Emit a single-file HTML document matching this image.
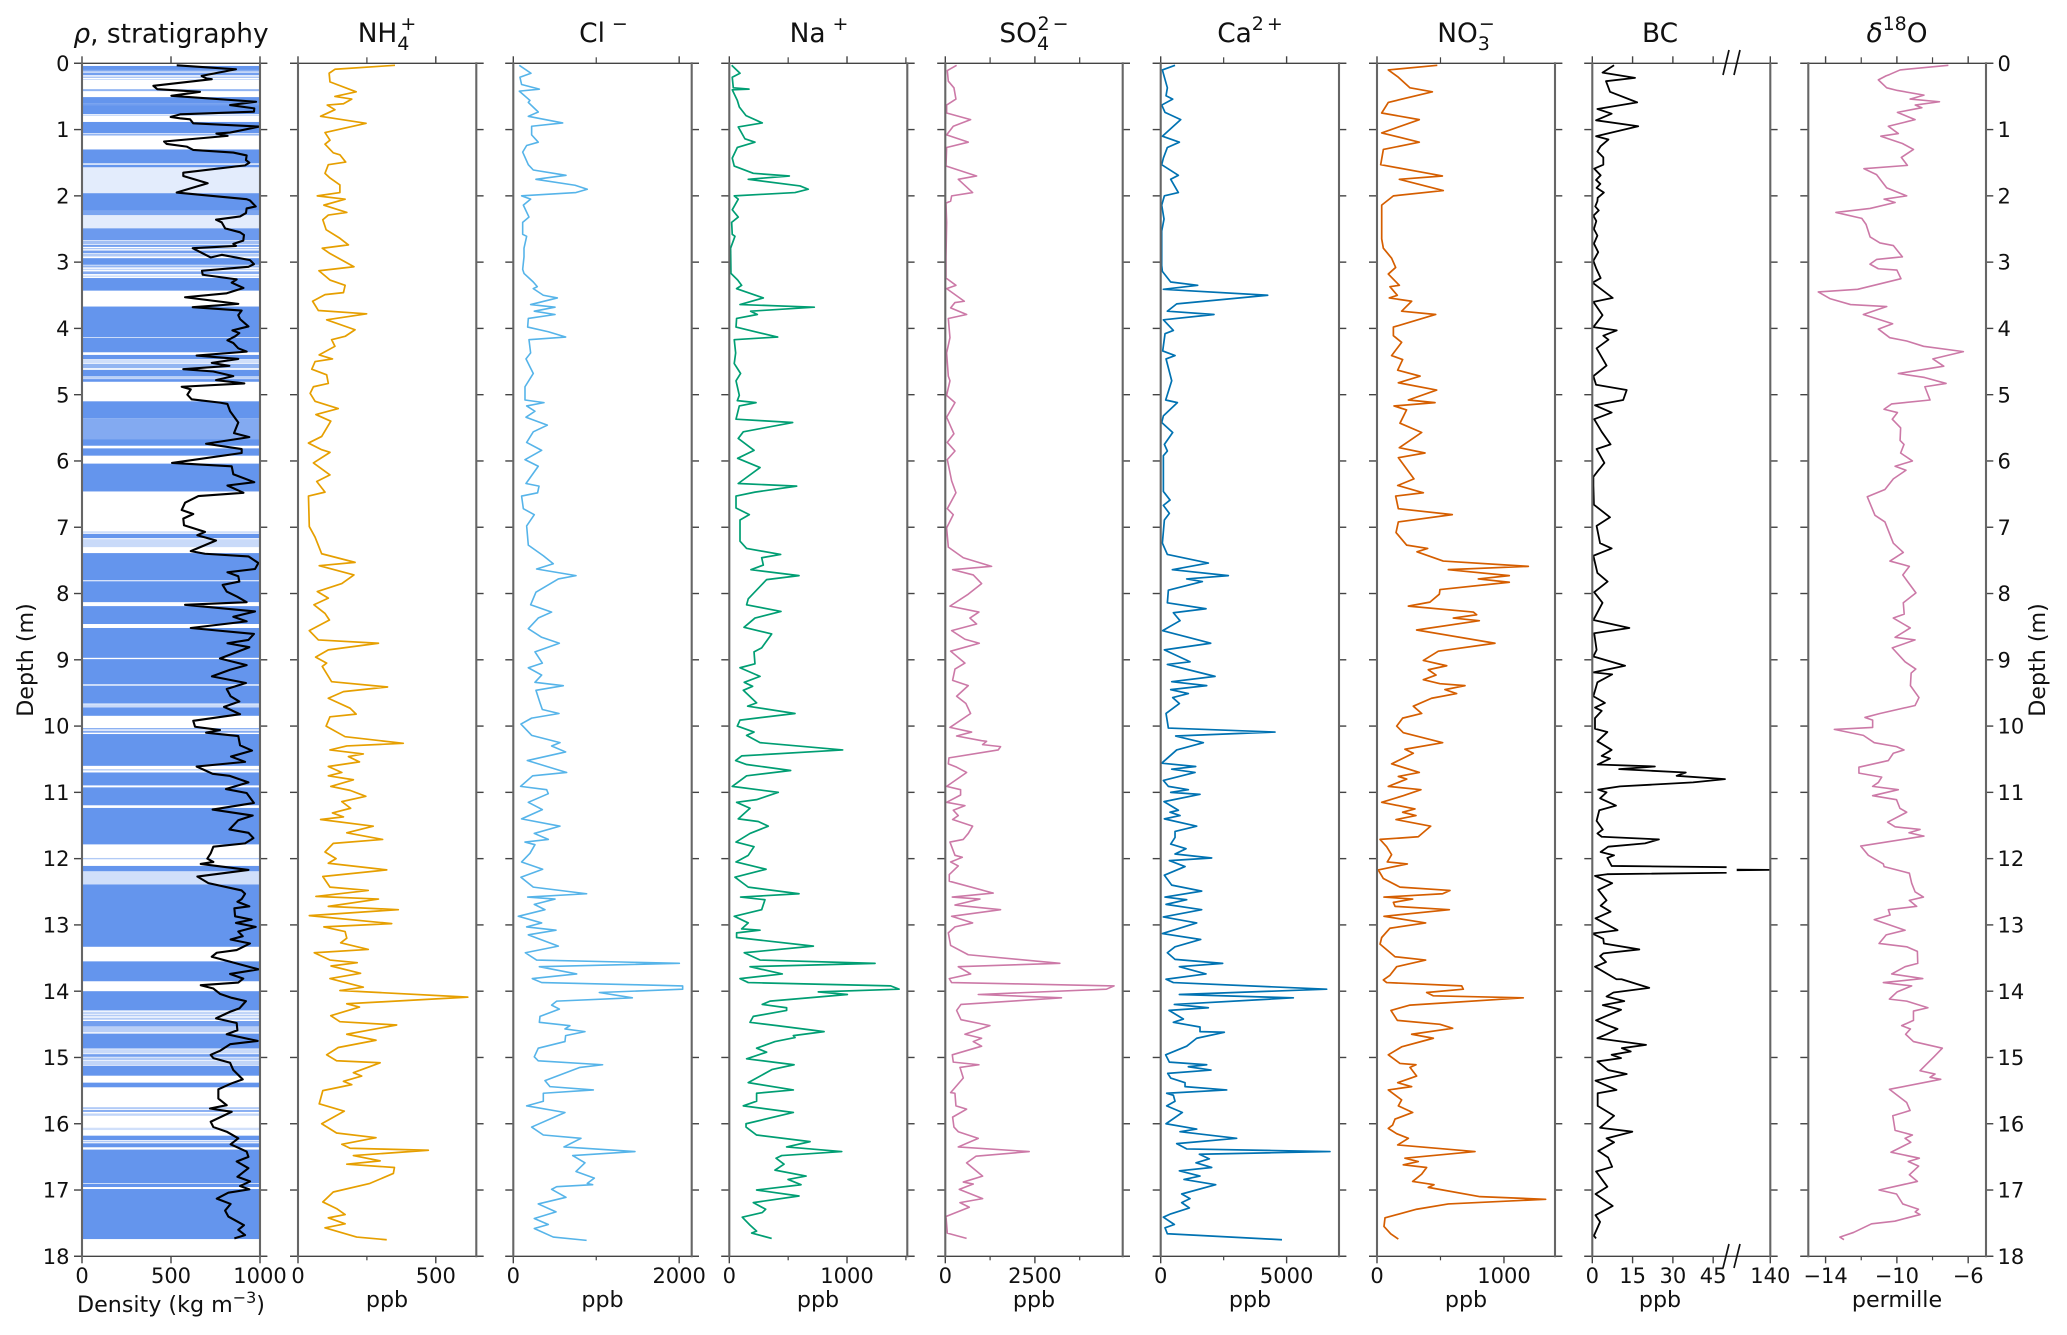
<!DOCTYPE html>
<html lang="en">
<head>
<meta charset="utf-8">
<title>Ice core profiles</title>
<style>
html,body{margin:0;padding:0;background:#fff;}
svg{display:block;filter:blur(0.35px);}
text{font-family:"DejaVu Sans","Liberation Sans",sans-serif;fill:#111;}
.tick{font-size:21px;}
.title{font-size:26.4px;}
.lab{font-size:22.2px;}
.s{font-size:19px;}
</style>
</head>
<body>
<svg id="chart" xmlns="http://www.w3.org/2000/svg" width="2067" height="1335" viewBox="0 0 2067 1335">
<rect width="2067" height="1335" fill="#fff"/>
<g id="plots"></g>
<text class="title" x="171" y="42.5" text-anchor="middle"><tspan font-style="italic">ρ</tspan>, stratigraphy</text>
<text class="title" x="387" y="42" text-anchor="middle">NH<tspan class="s" dy="8">4</tspan><tspan class="s" dx="-9" dy="-20">+</tspan></text>
<text class="title" x="603.5" y="42" text-anchor="middle">Cl<tspan class="s" dx="7" dy="-12">−</tspan></text>
<text class="title" x="819" y="42" text-anchor="middle">Na<tspan class="s" dx="7" dy="-12">+</tspan></text>
<text class="title" x="1034" y="42" text-anchor="middle">SO<tspan class="s" dy="8">4</tspan><tspan class="s" dx="-11.5" dy="-20">2</tspan><tspan class="s" dx="3">−</tspan></text>
<text class="title" x="1250" y="42" text-anchor="middle">Ca<tspan class="s" dy="-12">2</tspan><tspan class="s" dx="3">+</tspan></text>
<text class="title" x="1466" y="42" text-anchor="middle">NO<tspan class="s" dy="8">3</tspan><tspan class="s" dx="-11" dy="-20">−</tspan></text>
<text class="title" x="1660" y="42" text-anchor="middle">BC</text>
<text class="title" x="1897" y="42" text-anchor="middle"><tspan font-style="italic">δ</tspan><tspan class="s" dy="-12">18</tspan><tspan dy="12">O</tspan></text>
<text class="lab" x="171" y="1312" text-anchor="middle">Density (kg m<tspan font-size="16" dy="-9">−3</tspan><tspan dy="9">)</tspan></text>
<text class="lab" x="387" y="1307" text-anchor="middle">ppb</text>
<text class="lab" x="602.5" y="1307" text-anchor="middle">ppb</text>
<text class="lab" x="818" y="1307" text-anchor="middle">ppb</text>
<text class="lab" x="1034" y="1307" text-anchor="middle">ppb</text>
<text class="lab" x="1250" y="1307" text-anchor="middle">ppb</text>
<text class="lab" x="1466" y="1307" text-anchor="middle">ppb</text>
<text class="lab" x="1660" y="1307" text-anchor="middle">ppb</text>
<text class="lab" x="1897" y="1307" text-anchor="middle">permille</text>
<text class="lab" transform="translate(33,660) rotate(-90)" text-anchor="middle">Depth (m)</text>
<text class="lab" transform="translate(2045,660) rotate(-90)" text-anchor="middle">Depth (m)</text>
<g stroke="#111" stroke-width="1.7" fill="none">
<line x1="1723" y1="75" x2="1729" y2="50"/><line x1="1734" y1="75" x2="1740" y2="50"/>
</g>
<g stroke="#111" stroke-width="1.7" fill="none">
<line x1="1723" y1="1268" x2="1729" y2="1244"/><line x1="1734" y1="1268" x2="1740" y2="1244"/>
</g>
</svg>
<script>
// Readings are [depth in m, value].
const depthTicks = [0,1,2,3,4,5,6,7,8,9,10,11,12,13,14,15,16,17,18];

// Stratigraphy layers: [top depth, bottom depth, ice fraction].
const stratBands = [[.04,.10,1],[.10,.125,.8],[.14,.18,.9],[.20,.22,.6],[.24,.25,.5],[.39,.42,.7],[.51,.60,1],[.60,.63,.9],[.63,.765,1],[.775,.79,.5],[.885,1.055,1],[1.065,1.09,.7],[1.30,1.51,1],[1.53,1.57,1],[1.58,1.96,.18],[1.96,2.22,1],[2.22,2.29,.85],[2.29,2.49,.18],[2.49,2.67,.95],[2.68,2.73,.6],[2.74,2.77,.9],[2.79,2.805,.7],[2.825,2.865,.9],[2.875,2.915,.5],[2.94,3.04,1],[3.05,3.08,.7],[3.10,3.12,.4],[3.14,3.18,.8],[3.20,3.225,.3],[3.24,3.43,1],[3.67,4.13,1],[4.14,4.36,1],[4.40,4.465,1],[4.475,4.525,.3],[4.535,4.60,.7],[4.625,4.725,1],[4.735,4.76,.5],[4.765,4.805,1],[5.10,5.355,1],[5.355,5.67,.8],[5.67,5.77,1],[5.81,5.92,1],[6.04,6.46,1],[7.06,7.09,.3],[7.10,7.165,1],[7.18,7.30,.35],[7.39,7.80,1],[7.815,8.13,1],[8.19,8.46,1],[8.52,8.97,1],[8.99,9.37,1],[9.39,9.66,1],[9.67,9.72,.35],[9.72,9.845,1],[10.03,10.05,.8],[10.07,10.10,.8],[10.12,10.60,1],[10.65,10.67,.5],[10.70,10.895,1],[10.925,11.195,1],[11.235,11.785,1],[11.99,12.01,.5],[12.11,12.19,1],[12.19,12.39,.3],[12.39,13.33,1],[13.55,13.85,1],[14.0,14.29,1],[14.31,14.35,.4],[14.36,14.38,.5],[14.40,14.43,.5],[14.45,14.53,.9],[14.53,14.62,.45],[14.64,14.865,1],[14.875,14.94,.35],[14.95,14.99,.9],[15.0,15.04,.5],[15.05,15.115,.4],[15.125,15.275,1],[15.38,15.45,1],[15.75,15.78,.5],[15.795,15.82,.9],[15.845,15.88,.4],[16.06,16.095,.3],[16.18,16.245,1],[16.255,16.28,.5],[16.295,16.355,1],[16.39,16.895,1],[16.905,16.955,1],[16.985,17.74,1]];

const densityReadings = [[.03,532],[.09,865],[.19,672],[.23,700],[.24,729],[.34,401],[.39,423],[.43,663],[.49,502],[.58,978],[.63,832],[.68,968],[.73,966],[.77,551],[.81,498],[.83,551],[.845,607],[.905,625],[.955,996],[1.045,832],[1.06,755],[1.095,818],[1.18,461],[1.217,476],[1.257,588],[1.307,625],[1.347,850],[1.39,925],[1.46,921],[1.5,940],[1.54,916],[1.65,569],[1.70,569],[1.81,706],[1.95,532],[2.05,925],[2.07,944],[2.16,976],[2.19,925],[2.26,921],[2.31,888],[2.36,753],[2.40,785],[2.49,804],[2.55,888],[2.59,910],[2.675,906],[2.725,850],[2.755,865],[2.79,622],[2.93,723],[2.89,785],[2.97,944],[3.03,966],[3.07,935],[3.13,674],[3.19,678],[3.26,869],[3.31,841],[3.39,907],[3.47,813],[3.53,579],[3.63,878],[3.68,622],[3.73,897],[3.80,878],[3.86,888],[3.97,935],[4.03,845],[4.07,884],[4.12,860],[4.18,817],[4.22,850],[4.30,878],[4.35,925],[4.41,644],[4.46,878],[4.52,729],[4.565,828],[4.615,569],[4.65,738],[4.72,850],[4.78,753],[4.83,912],[4.88,560],[4.92,611],[5.0,592],[5.07,616],[5.12,775],[5.14,817],[5.25,832],[5.42,878],[5.58,854],[5.64,940],[5.74,697],[5.82,897],[5.88,897],[6.03,506],[6.08,841],[6.2,850],[6.32,968],[6.37,817],[6.48,907],[6.53,654],[6.63,579],[6.74,560],[6.8,625],[6.87,569],[6.97,573],[7.07,691],[7.12,648],[7.2,753],[7.36,611],[7.4,691],[7.44,935],[7.54,991],[7.63,972],[7.68,817],[7.74,878],[7.82,884],[7.87,790],[7.97,813],[8.05,873],[8.13,925],[8.17,579],[8.27,972],[8.35,850],[8.42,925],[8.52,611],[8.61,966],[8.70,935],[8.75,817],[8.81,940],[8.98,775],[9.08,925],[9.15,832],[9.25,730],[9.35,921],[9.44,813],[9.55,835],[9.63,884],[9.71,798],[9.82,888],[9.92,625],[10.01,635],[10.06,775],[10.10,697],[10.15,878],[10.29,888],[10.37,955],[10.46,837],[10.54,916],[10.61,644],[10.72,734],[10.75,828],[10.85,935],[10.95,809],[11.01,925],[11.16,966],[11.26,734],[11.35,959],[11.42,878],[11.56,828],[11.61,935],[11.69,963],[11.77,916],[11.82,738],[11.92,723],[12.0,704],[12.05,738],[12.08,667],[12.17,935],[12.27,648],[12.37,710],[12.48,897],[12.53,916],[12.61,897],[12.65,873],[12.72,940],[12.75,856],[12.87,860],[12.92,953],[12.97,865],[13.03,976],[13.1,878],[13.17,903],[13.22,835],[13.28,944],[13.38,869],[13.42,757],[13.48,729],[13.67,991],[13.74,832],[13.81,906],[13.87,878],[13.91,667],[13.96,738],[14.04,775],[14.1,841],[14.15,921],[14.26,884],[14.31,832],[14.41,753],[14.48,869],[14.59,873],[14.65,813],[14.75,987],[14.8,832],[14.9,775],[14.96,723],[15.01,738],[15.08,832],[15.19,850],[15.33,903],[15.39,841],[15.48,766],[15.62,766],[15.72,813],[15.77,719],[15.82,841],[15.97,723],[16.05,738],[16.12,813],[16.22,878],[16.31,835],[16.42,925],[16.5,935],[16.57,869],[16.67,935],[16.8,873],[16.87,944],[16.94,888],[16.99,940],[17.04,822],[17.13,757],[17.21,835],[17.31,804],[17.4,822],[17.53,910],[17.6,878],[17.68,916],[17.73,856]];

const nh4Readings = [[.03,352],[.09,134],[.15,113],[.28,116],[.43,211],[.50,134],[.54,195],[.61,165],[.63,106],[.70,134],[.80,82],[.905,247],[1.045,98],[1.16,116],[1.22,98],[1.35,128],[1.38,152],[1.49,173],[1.53,110],[1.66,98],[1.73,116],[1.835,152],[1.95,152],[2.0,70],[2.05,171],[2.14,94],[2.25,177],[2.29,110],[2.36,90],[2.51,102],[2.64,152],[2.74,183],[2.79,88],[2.87,116],[3.07,203],[3.13,76],[3.27,116],[3.35,171],[3.46,165],[3.49,98],[3.59,53],[3.73,74],[3.78,249],[3.87,104],[4.02,207],[4.12,171],[4.17,122],[4.27,134],[4.40,77],[4.46,125],[4.5,62],[4.615,50],[4.70,104],[4.83,110],[4.88,56],[4.98,44],[5.10,62],[5.21,146],[5.30,65],[5.40,119],[5.63,86],[5.73,38],[5.83,86],[5.87,116],[6.03,56],[6.21,116],[6.31,68],[6.47,98],[6.53,38],[6.99,41],[7.15,62],[7.40,86],[7.53,207],[7.58,77],[7.72,203],[7.85,159],[7.97,70],[8.07,110],[8.17,58],[8.3,98],[8.4,114],[8.56,41],[8.7,74],[8.75,292],[8.85,110],[8.96,64],[9.05,104],[9.1,88],[9.33,122],[9.41,325],[9.48,165],[9.58,110],[9.73,189],[9.82,211],[9.86,116],[10.0,102],[10.16,171],[10.26,382],[10.3,177],[10.36,116],[10.42,237],[10.46,183],[10.54,223],[10.61,110],[10.7,159],[10.75,110],[10.81,201],[10.91,119],[10.97,189],[11.06,246],[11.14,159],[11.24,191],[11.31,125],[11.37,165],[11.41,82],[11.51,273],[11.61,177],[11.71,307],[11.77,128],[11.9,98],[12.0,138],[12.07,110],[12.17,322],[12.27,90],[12.43,116],[12.48,255],[12.57,65],[12.61,292],[12.72,110],[12.77,364],[12.86,41],[12.98,340],[13.03,94],[13.1,171],[13.2,177],[13.27,155],[13.37,255],[13.42,59],[13.53,116],[13.57,215],[13.62,120],[13.73,227],[13.81,116],[13.94,237],[13.99,152],[14.09,616],[14.19,177],[14.24,223],[14.37,119],[14.46,152],[14.51,358],[14.65,177],[14.74,283],[14.85,146],[14.96,104],[15.05,140],[15.08,298],[15.23,201],[15.28,231],[15.36,165],[15.41,195],[15.5,90],[15.7,77],[15.81,168],[16.0,86],[16.14,140],[16.21,283],[16.31,159],[16.37,189],[16.4,473],[16.48,201],[16.56,298],[16.61,177],[16.66,350],[16.75,346],[16.9,261],[17.03,128],[17.18,90],[17.28,140],[17.37,171],[17.42,110],[17.51,171],[17.57,98],[17.71,213],[17.75,322]];

const clReadings = [[.03,72],[.15,213],[.21,80],[.32,100],[.39,314],[.42,72],[.56,201],[.59,181],[.735,301],[.8,181],[.9,595],[.95,221],[1.08,221],[1.19,301],[1.24,161],[1.34,113],[1.53,181],[1.61,241],[1.69,635],[1.75,273],[1.84,744],[1.9,892],[1.95,756],[2.0,100],[2.05,209],[2.14,121],[2.32,189],[2.4,113],[2.58,113],[2.61,161],[2.79,129],[2.92,129],[3.11,113],[3.17,129],[3.3,241],[3.37,289],[3.4,241],[3.5,362],[3.54,531],[3.64,209],[3.68,503],[3.74,253],[3.79,503],[3.85,181],[3.98,173],[4.05,422],[4.13,631],[4.17,189],[4.37,209],[4.46,153],[4.68,241],[4.88,141],[5.08,141],[5.12,370],[5.17,161],[5.25,261],[5.34,153],[5.46,410],[5.56,241],[5.72,161],[5.84,342],[5.98,141],[6.08,301],[6.34,153],[6.38,310],[6.48,293],[6.53,100],[6.72,121],[6.81,253],[6.98,161],[7.27,181],[7.43,362],[7.55,482],[7.63,281],[7.73,756],[7.78,543],[7.98,273],[8.17,209],[8.28,462],[8.37,301],[8.53,181],[8.66,342],[8.75,555],[8.88,261],[9.05,350],[9.12,181],[9.23,342],[9.34,261],[9.39,603],[9.46,273],[9.65,322],[9.75,350],[9.81,551],[9.88,221],[9.97,92],[10.14,221],[10.25,563],[10.3,462],[10.39,631],[10.52,169],[10.7,643],[10.75,233],[10.91,88],[10.96,402],[11.02,422],[11.15,181],[11.26,350],[11.4,100],[11.51,563],[11.62,253],[11.71,422],[11.75,141],[11.79,261],[11.92,201],[12.05,100],[12.16,354],[12.28,92],[12.43,241],[12.53,884],[12.58,173],[12.61,503],[12.69,253],[12.77,382],[12.87,60],[12.97,342],[13.03,161],[13.08,515],[13.15,181],[13.32,543],[13.42,145],[13.53,281],[13.58,2002],[13.63,314],[13.74,764],[13.81,229],[13.87,342],[13.92,2042],[13.97,2042],[14.02,1037],[14.1,1435],[14.15,523],[14.21,462],[14.27,555],[14.38,322],[14.47,314],[14.52,683],[14.57,623],[14.61,864],[14.67,631],[14.76,623],[14.86,301],[14.99,253],[15.05,301],[15.11,1077],[15.15,804],[15.35,382],[15.44,442],[15.49,965],[15.54,362],[15.66,362],[15.73,161],[15.83,623],[16.05,221],[16.17,362],[16.22,816],[16.35,611],[16.42,1467],[16.48,716],[16.59,864],[16.72,756],[16.82,977],[16.9,892],[16.92,957],[16.95,523],[16.99,462],[17.11,635],[17.21,301],[17.33,515],[17.43,253],[17.52,422],[17.58,253],[17.71,482],[17.76,884]];

const naReadings = [[.03,20],[.15,91],[.21,25],[.37,34],[.39,167],[.40,25],[.56,68],[.66,85],[.79,142],[.9,280],[.96,76],[1.14,133],[1.19,218],[1.27,68],[1.43,25],[1.55,42],[1.66,204],[1.70,510],[1.75,161],[1.85,601],[1.90,671],[1.95,558],[2.0,42],[2.05,76],[2.21,25],[2.32,76],[2.4,20],[2.58,25],[2.61,48],[2.79,11],[3.17,14],[3.27,71],[3.35,105],[3.4,62],[3.54,289],[3.64,91],[3.68,722],[3.74,181],[3.79,238],[3.85,62],[3.98,57],[4.05,218],[4.13,411],[4.17,42],[4.37,54],[4.53,42],[4.68,96],[4.79,57],[5.01,85],[5.09,68],[5.12,227],[5.17,85],[5.37,57],[5.42,538],[5.56,119],[5.66,76],[5.84,210],[5.96,71],[6.1,261],[6.34,76],[6.38,572],[6.47,218],[6.53,57],[6.71,57],[6.81,170],[6.89,91],[7.21,91],[7.32,147],[7.41,436],[7.46,275],[7.57,289],[7.64,184],[7.73,592],[7.79,317],[8.08,161],[8.17,147],[8.27,439],[8.37,218],[8.51,125],[8.61,360],[8.82,275],[8.88,210],[9.06,218],[9.12,91],[9.25,261],[9.34,127],[9.4,198],[9.46,119],[9.65,232],[9.7,156],[9.81,558],[9.91,91],[10.0,68],[10.09,210],[10.14,147],[10.25,261],[10.36,963],[10.45,105],[10.52,54],[10.58,147],[10.67,521],[10.75,147],[10.91,25],[11.0,416],[11.11,232],[11.15,62],[11.24,176],[11.4,76],[11.44,246],[11.51,331],[11.62,176],[11.75,57],[11.82,210],[11.95,161],[12.05,57],[12.16,312],[12.28,48],[12.43,161],[12.53,592],[12.58,96],[12.62,303],[12.77,275],[12.87,42],[12.97,161],[13.06,105],[13.08,261],[13.12,62],[13.19,62],[13.32,714],[13.42,127],[13.53,261],[13.58,1238],[13.63,176],[13.74,450],[13.81,91],[13.87,161],[13.92,1371],[13.97,1442],[14.01,756],[14.05,1003],[14.15,346],[14.2,280],[14.25,487],[14.29,487],[14.38,204],[14.47,176],[14.52,405],[14.61,805],[14.67,544],[14.7,558],[14.76,388],[14.86,232],[14.92,317],[15.02,147],[15.11,550],[15.18,365],[15.38,161],[15.49,544],[15.54,232],[15.66,232],[15.73,119],[15.83,544],[16.0,142],[16.05,142],[16.17,232],[16.27,686],[16.35,487],[16.42,955],[16.48,445],[16.52,397],[16.61,465],[16.7,388],[16.79,652],[16.84,499],[16.92,609],[17.0,232],[17.09,592],[17.19,204],[17.29,309],[17.34,280],[17.41,110],[17.53,176],[17.62,232],[17.65,190],[17.73,360]];

const so4Readings = [[.03,316],[.11,56],[.27,84],[.37,241],[.54,297],[.63,37],[.75,37],[.85,706],[.95,223],[1.08,37],[1.19,641],[1.27,37],[1.55,19],[1.70,873],[1.75,362],[1.95,762],[2.0,177],[2.08,149],[2.11,19],[2.4,37],[2.92,19],[3.24,19],[3.35,297],[3.4,37],[3.59,530],[3.61,269],[3.69,149],[3.79,595],[3.85,84],[4.14,130],[4.37,37],[4.72,84],[4.79,130],[5.01,37],[5.12,270],[5.34,37],[5.59,241],[5.72,56],[5.85,270],[5.98,56],[6.3,177],[6.48,297],[6.72,56],[6.81,223],[7.01,37],[7.3,84],[7.46,502],[7.59,1291],[7.64,204],[7.72,780],[7.85,1013],[8.01,641],[8.19,130],[8.28,938],[8.37,687],[8.46,873],[8.56,177],[8.69,548],[8.75,948],[8.87,149],[9.05,548],[9.14,270],[9.31,204],[9.39,641],[9.55,316],[9.66,576],[9.81,706],[10.02,130],[10.09,734],[10.15,316],[10.22,1013],[10.23,1152],[10.28,1041],[10.31,1542],[10.36,1477],[10.48,102],[10.57,84],[10.62,316],[10.7,594],[10.91,37],[10.96,427],[11.04,427],[11.15,37],[11.2,548],[11.27,223],[11.35,362],[11.41,204],[11.51,762],[11.62,641],[11.71,502],[11.75,130],[11.95,270],[11.98,474],[12.05,149],[12.11,362],[12.24,111],[12.34,111],[12.52,1338],[12.58,195],[12.61,966],[12.7,270],[12.77,1542],[12.87,176],[12.97,762],[13.03,270],[13.12,84],[13.31,149],[13.45,641],[13.58,3196],[13.63,362],[13.74,708],[13.81,111],[13.87,176],[13.92,4710],[13.97,4496],[14.05,920],[14.1,3242],[14.2,437],[14.29,316],[14.43,437],[14.52,1245],[14.65,548],[14.71,1013],[14.76,780],[14.83,1013],[14.96,195],[15.07,223],[15.11,938],[15.15,409],[15.31,502],[15.53,149],[15.54,269],[15.73,297],[15.78,594],[15.9,204],[16.05,241],[16.12,362],[16.22,920],[16.35,362],[16.42,2341],[16.49,855],[16.59,594],[16.79,1041],[16.88,502],[16.91,780],[16.99,390],[17.13,1041],[17.19,409],[17.26,669],[17.4,19],[17.65,56],[17.73,594]];

const caReadings = [[.03,569],[.10,66],[.37,265],[.49,212],[.54,476],[.63,40],[.74,172],[.85,794],[1.10,66],[1.19,741],[1.27,265],[1.43,106],[1.53,40],[1.69,701],[1.75,397],[1.95,701],[2.0,146],[2.14,40],[2.35,132],[2.53,40],[3.05,40],[3.14,66],[3.3,397],[3.35,1469],[3.41,106],[3.5,4247],[3.63,635],[3.74,265],[3.79,2117],[3.87,106],[4.03,503],[4.08,172],[4.34,79],[4.41,569],[4.46,212],[4.79,437],[5.08,198],[5.12,662],[5.32,106],[5.42,40],[5.57,476],[5.75,146],[5.85,265],[5.92,106],[6.46,106],[6.59,370],[6.67,106],[6.79,344],[6.89,146],[7.24,66],[7.41,265],[7.54,1892],[7.64,463],[7.73,2686],[7.78,1032],[7.82,1654],[7.95,304],[8.14,265],[8.23,1799],[8.29,503],[8.41,767],[8.56,79],[8.75,1985],[8.85,146],[9.03,1164],[9.07,265],[9.25,2157],[9.33,437],[9.39,1826],[9.45,397],[9.51,1098],[9.57,476],[9.66,741],[9.81,212],[10.03,304],[10.09,4538],[10.15,595],[10.25,1693],[10.36,635],[10.56,40],[10.61,1389],[10.65,437],[10.7,1363],[10.82,106],[10.91,304],[10.96,1098],[11.0,397],[11.03,1561],[11.14,132],[11.27,701],[11.3,370],[11.35,767],[11.4,146],[11.51,1429],[11.59,569],[11.68,569],[11.78,397],[11.85,1005],[11.93,569],[11.99,2024],[12.03,344],[12.12,966],[12.25,146],[12.4,437],[12.49,1627],[12.58,172],[12.62,1032],[12.69,212],[12.77,1627],[12.88,106],[12.97,1429],[13.13,66],[13.22,1588],[13.33,569],[13.42,265],[13.52,569],[13.58,2461],[13.63,741],[13.74,1799],[13.82,212],[13.87,503],[13.97,6589],[14.05,741],[14.1,5266],[14.2,542],[14.25,1892],[14.29,331],[14.42,900],[14.47,503],[14.54,1561],[14.61,1561],[14.62,2527],[14.71,1429],[14.83,1032],[14.96,198],[15.07,344],[15.11,1826],[15.14,1098],[15.19,1998],[15.24,278],[15.31,397],[15.38,966],[15.44,966],[15.49,2620],[15.54,238],[15.57,503],[15.66,569],[15.73,238],[15.83,860],[16.0,212],[16.08,1429],[16.12,767],[16.22,3016],[16.3,635],[16.38,1032],[16.42,6721],[16.46,1535],[16.53,1931],[16.59,1403],[16.66,2024],[16.71,741],[16.79,1561],[16.84,926],[16.92,2183],[17.06,833],[17.13,1164],[17.19,833],[17.27,1138],[17.36,397],[17.41,106],[17.52,542],[17.57,172],[17.66,265],[17.75,4816]];

const no3Readings = [[.03,475],[.10,89],[.21,168],[.37,260],[.43,436],[.59,89],[.75,37],[.85,333],[1.05,37],[1.19,333],[1.30,50],[1.53,29],[1.70,515],[1.75,176],[1.92,522],[2.0,129],[2.14,37],[2.65,37],[2.79,50],[2.94,115],[3.08,147],[3.18,89],[3.35,176],[3.37,102],[3.5,160],[3.54,97],[3.59,273],[3.74,194],[3.79,462],[3.98,129],[4.11,129],[4.21,194],[4.41,115],[4.47,202],[4.63,163],[4.72,339],[4.82,168],[4.93,470],[5.08,247],[5.12,457],[5.17,134],[5.23,233],[5.43,181],[5.57,352],[5.8,176],[5.88,378],[5.95,168],[6.27,291],[6.37,163],[6.48,365],[6.53,147],[6.72,168],[6.81,593],[6.92,168],[7.08,150],[7.27,234],[7.32,399],[7.37,315],[7.51,522],[7.59,1192],[7.64,562],[7.73,1042],[7.78,798],[7.83,1042],[7.94,496],[8.01,491],[8.13,417],[8.19,247],[8.28,759],[8.32,785],[8.37,601],[8.41,806],[8.55,312],[8.75,929],[8.87,483],[9.01,365],[9.09,549],[9.15,404],[9.23,465],[9.3,365],[9.36,496],[9.39,693],[9.45,535],[9.51,627],[9.58,430],[9.7,286],[9.81,352],[9.88,202],[10.0,155],[10.1,207],[10.25,517],[10.35,220],[10.41,286],[10.57,115],[10.7,333],[10.76,168],[10.8,234],[10.91,89],[10.96,346],[11.05,207],[11.15,37],[11.25,299],[11.3,202],[11.35,307],[11.41,150],[11.51,423],[11.67,325],[11.71,24],[11.82,76],[11.94,115],[12.05,81],[12.08,239],[12.17,10],[12.3,50],[12.43,181],[12.48,575],[12.53,517],[12.58,55],[12.61,281],[12.66,129],[12.72,142],[12.77,570],[12.87,55],[12.97,383],[13.05,102],[13.19,37],[13.29,24],[13.48,142],[13.53,383],[13.63,155],[13.76,102],[13.83,50],[13.87,76],[13.92,667],[13.97,680],[14.02,391],[14.07,444],[14.1,1152],[14.21,260],[14.29,110],[14.44,160],[14.5,496],[14.56,596],[14.65,273],[14.71,444],[14.84,194],[14.96,89],[15.09,181],[15.11,307],[15.15,260],[15.28,312],[15.38,163],[15.44,273],[15.49,89],[15.64,194],[15.73,168],[15.83,281],[15.93,142],[16.02,123],[16.07,89],[16.15,155],[16.22,247],[16.32,163],[16.42,772],[16.52,220],[16.57,325],[16.62,207],[16.66,391],[16.76,352],[16.87,281],[16.92,449],[16.96,404],[17.1,811],[17.14,1328],[17.21,562],[17.29,312],[17.42,63],[17.55,55],[17.66,108],[17.74,168]];

const bcReadings = [[.03,8.1],[.14,3.8],[.22,15.9],[.27,5.1],[.43,6.6],[.59,16.7],[.69,1.9],[.76,7.2],[.86,1.4],[.95,17.1],[1.1,1.4],[1.15,6],[1.25,3.1],[1.33,1.9],[1.42,4.1],[1.53,4.1],[1.59,.7],[1.69,3.1],[1.76,1.4],[1.82,3],[1.88,1.6],[1.95,4.3],[2.03,2],[2.08,1.9],[2.16,1.1],[2.22,2.4],[2.3,.4],[2.38,1.5],[2.5,.6],[2.6,1.9],[2.72,.6],[2.85,2.2],[2.98,.4],[3.1,1.5],[3.24,3.1],[3.31,.1],[3.54,7.6],[3.6,.4],[3.8,3.8],[3.98,.4],[4.03,9.1],[4.11,4.1],[4.17,6],[4.3,1.6],[4.56,5.3],[4.72,.4],[4.85,1.4],[4.93,12.8],[5.08,11.5],[5.16,1],[5.27,7.2],[5.37,.7],[5.56,3.5],[5.75,6.8],[5.82,1.6],[6.03,4.5],[6.16,1.9],[6.24,.4],[6.37,.4],[6.66,.6],[6.85,6.6],[6.98,1.6],[7.24,2.9],[7.32,7.2],[7.43,.4],[7.69,1.9],[7.82,5.7],[7.98,.7],[8.14,3.8],[8.4,.4],[8.52,13.8],[8.6,.7],[8.85,1.6],[8.95,.4],[9.09,12.2],[9.19,.4],[9.22,7.4],[9.34,1.9],[9.55,.4],[9.65,4.7],[9.72,1],[9.77,3.5],[9.88,1],[10.04,1],[10.09,5.6],[10.23,1.9],[10.36,7.2],[10.45,3.5],[10.49,6.6],[10.58,2],[10.61,23.3],[10.65,10],[10.7,34.8],[10.75,31.4],[10.8,49.4],[10.85,37.5],[10.91,10.3],[10.96,2.2],[11.0,5.3],[11.09,2.9],[11.2,8.8],[11.27,2.6],[11.43,1.6],[11.56,3.9],[11.62,1.9],[11.67,3.5],[11.71,24.8],[11.77,19.6],[11.82,5.9],[11.9,3.1],[11.95,8.1],[11.99,5.6],[12.11,7.2],[12.17,140],[12.235,5.5],[12.26,1],[12.37,7.4],[12.47,2.2],[12.63,5.3],[12.71,3.1],[12.8,6.8],[12.9,1.2],[13.08,9.4],[13.13,0],[13.21,4.1],[13.28,4.3],[13.37,17.5],[13.43,4.1],[13.47,2.9],[13.56,5.1],[13.63,1],[13.82,9],[13.82,10.9],[13.95,21.2],[14.02,7.9],[14.08,5.3],[14.15,11.9],[14.21,3.9],[14.28,10.7],[14.44,1.4],[14.51,5.3],[14.57,9.4],[14.65,5.3],[14.71,1.9],[14.81,20],[14.86,11],[14.91,14.3],[14.96,7.2],[15.01,10.7],[15.06,1.9],[15.19,5.9],[15.25,12.8],[15.35,1.2],[15.49,9],[15.54,2],[15.73,2],[15.88,8.1],[16.06,2.9],[16.12,14.9],[16.22,5.3],[16.28,8.1],[16.41,2.2],[16.51,5.9],[16.65,7.4],[16.72,1.4],[16.95,5.6],[17.06,1.2],[17.24,7.6],[17.38,1.2],[17.48,2.9],[17.69,.6],[17.73,1.4]];

const d18oReadings = [[.03,-7.11],[.10,-9.82],[.17,-10.42],[.19,-10.61],[.25,-11.04],[.37,-10.57],[.41,-9.97],[.48,-8.48],[.54,-9.26],[.58,-7.61],[.63,-8.97],[.67,-8.6],[.74,-9.97],[.85,-8.98],[.95,-10.48],[1.06,-9.92],[1.1,-10.9],[1.21,-9.69],[1.3,-9.07],[1.42,-9.75],[1.54,-9.41],[1.59,-11.85],[1.68,-11.14],[1.88,-10.57],[2.0,-9.45],[2.05,-10.72],[2.1,-10.1],[2.19,-11.5],[2.25,-13.42],[2.34,-11.97],[2.43,-11.73],[2.62,-11.5],[2.71,-10.95],[2.75,-10.2],[2.92,-9.69],[2.96,-11.14],[3.03,-11.51],[3.1,-11.04],[3.12,-10],[3.25,-9.77],[3.41,-12.2],[3.45,-14.41],[3.55,-13.76],[3.64,-12.6],[3.67,-10.57],[3.79,-11.88],[3.93,-10.24],[4.01,-11.04],[4.14,-10.4],[4.19,-9.45],[4.27,-8.5],[4.35,-6.27],[4.46,-7.98],[4.57,-7.37],[4.68,-9.92],[4.74,-8.45],[4.83,-7.24],[4.88,-8.43],[5.08,-8.14],[5.14,-10.3],[5.22,-10.72],[5.27,-9.97],[5.37,-10.26],[5.5,-9.79],[5.69,-9.82],[5.75,-9.6],[5.88,-9.79],[6.0,-9.13],[6.08,-10.1],[6.14,-9.49],[6.27,-10.2],[6.43,-10.67],[6.54,-11.66],[6.82,-11.23],[6.92,-10.67],[7.24,-10.2],[7.38,-9.64],[7.51,-10.39],[7.59,-9.3],[7.72,-9.67],[7.99,-8.93],[8.14,-9.64],[8.31,-9.59],[8.37,-10.2],[8.52,-9.25],[8.66,-10.1],[8.7,-8.98],[8.82,-10.26],[9.03,-9.54],[9.14,-8.94],[9.2,-9.2],[9.39,-9.24],[9.57,-8.76],[9.69,-8.98],[9.81,-10.95],[9.87,-11.79],[9.91,-11.36],[10.02,-11.36],[10.05,-13.51],[10.14,-11.88],[10.25,-11.27],[10.31,-10.02],[10.36,-9.6],[10.41,-10.2],[10.52,-10.48],[10.62,-12.13],[10.71,-12.13],[10.77,-10.85],[10.85,-11.04],[10.91,-11.36],[10.96,-9.92],[11.05,-11.36],[11.11,-10.02],[11.24,-9.83],[11.3,-9.45],[11.45,-10.52],[11.52,-10.1],[11.56,-8.7],[11.61,-9.32],[11.66,-8.48],[11.81,-12.03],[11.95,-11.6],[12.08,-10.76],[12.12,-10.72],[12.22,-9.3],[12.37,-9.17],[12.5,-8.98],[12.58,-8.51],[12.63,-9.3],[12.72,-8.89],[12.77,-10.48],[12.85,-10.38],[12.92,-11.27],[13.08,-9.54],[13.15,-10.6],[13.28,-11.0],[13.33,-9.45],[13.4,-8.85],[13.58,-8.83],[13.63,-9.54],[13.74,-10.29],[13.81,-8.55],[13.87,-10.76],[13.92,-9.17],[14.01,-9.98],[14.12,-10.42],[14.15,-9.45],[14.25,-8.26],[14.3,-9.07],[14.44,-9.07],[14.52,-9.73],[14.57,-9.24],[14.65,-9.51],[14.76,-9.07],[14.86,-7.45],[14.99,-7.92],[15.1,-8.33],[15.2,-8.7],[15.25,-7.86],[15.3,-8.14],[15.33,-7.54],[15.48,-10.42],[15.68,-9.45],[15.8,-9.26],[15.88,-10.23],[16.1,-10.1],[16.17,-9.13],[16.22,-9.54],[16.28,-9.22],[16.43,-10.33],[16.52,-8.74],[16.57,-9.36],[16.64,-8.78],[16.77,-9.3],[16.87,-8.85],[17.0,-11.0],[17.06,-10.02],[17.21,-9.67],[17.29,-8.79],[17.33,-8.97],[17.37,-8.7],[17.47,-10.12],[17.51,-11.42],[17.64,-12.43],[17.71,-13.2],[17.75,-12.97]];

const densityTicks = [0,500,1000];
const nh4Ticks = [0,500];
const nh4Minor = [250];
const clTicks = [0,2000];
const clMinor = [1000];
const naTicks = [0,1000];
const naMinor = [500,1500];
const so4Ticks = [0,2500];
const so4Minor = [1250,3750];
const caTicks = [0,5000];
const caMinor = [2500];
const no3Ticks = [0,1000];
const no3Minor = [500];
const bcTicks = [0,15,30,45,140];
const d18oTicks = [-14,-10,-6];
const d18oMinor = [-12,-8];

const NS = 'http://www.w3.org/2000/svg';
const plots = document.getElementById('plots');
const depthMax = 18;
const plotTop = 63.3;
const plotBottom = 1256.3;
function yScale(depth){ return plotTop + (plotBottom - plotTop) * depth / depthMax; }
function linearScale(d0, d1, r0, r1){ return v => r0 + (r1 - r0) * (v - d0) / (d1 - d0); }
function make(tag, attrs, parent){
  const el = document.createElementNS(NS, tag);
  for (const k in attrs) el.setAttribute(k, attrs[k]);
  parent.appendChild(el);
  return el;
}
function label(v){ return String(v).replace('-', '\u2212'); }

const panelSpecs = [
  {id:'density', left:82, right:260, domain:[0,1000], readings:densityReadings, color:'#000', lw:2.1, ticks:densityTicks, minor:[], leftLabels:true},
  {id:'nh4', left:298, right:476.3, domain:[0,647], readings:nh4Readings, color:'#E69F00', lw:1.7, ticks:nh4Ticks, minor:nh4Minor},
  {id:'cl', left:513.3, right:691.7, domain:[0,2151], readings:clReadings, color:'#56B4E9', lw:1.6, ticks:clTicks, minor:clMinor},
  {id:'na', left:729.3, right:907.3, domain:[0,1512], readings:naReadings, color:'#009E73', lw:1.7, ticks:naTicks, minor:naMinor},
  {id:'so4', left:945.3, right:1122.7, domain:[0,4950], readings:so4Readings, color:'#CC79A7', lw:1.6, ticks:so4Ticks, minor:so4Minor},
  {id:'ca', left:1160.7, right:1339, domain:[0,7080], readings:caReadings, color:'#0072B2', lw:1.7, ticks:caTicks, minor:caMinor},
  {id:'no3', left:1377, right:1555, domain:[0,1402], readings:no3Readings, color:'#D55E00', lw:1.7, ticks:no3Ticks, minor:no3Minor},
  {id:'bc', left:1592.3, right:1770.3, broken:true, readings:bcReadings, color:'#000', lw:1.8, ticks:bcTicks, minor:[]},
  {id:'d18o', left:1808.3, right:1986, domain:[-14.97,-5], readings:d18oReadings, color:'#CC79A7', lw:1.6, ticks:d18oTicks, minor:d18oMinor, rightLabels:true}
];

const defs = make('defs', {}, plots);

function addClip(id, x0, x1){
  const cp = make('clipPath', {id:id}, defs);
  make('rect', {x:x0, y:plotTop, width:x1 - x0, height:plotBottom - plotTop}, cp);
}
function seriesPoints(readings, xs){
  return readings.map(r => xs(r[1]).toFixed(2) + ',' + yScale(r[0]).toFixed(2)).join(' ');
}

panelSpecs.forEach(spec => {
  const g = make('g', {}, plots);
  
  
  let xs;
  if (spec.broken) {
    const lowX = linearScale(0, 50, spec.left, 1726.6);
    const highX = linearScale(130, 140, 1736.7, spec.right);
    xs = v => v > 90 ? highX(v) : lowX(v);
    addClip('clip-bc-low', spec.left, 1726.6);
    addClip('clip-bc-high', 1736.7, spec.right);
    const lowLine = make('polyline', {points:seriesPoints(spec.readings, lowX), fill:'none', stroke:spec.color, 'stroke-width':spec.lw, 'stroke-linejoin':'round', 'clip-path':'url(#clip-bc-low)'}, g);
    
    
    const highLine = make('polyline', {points:seriesPoints(spec.readings, highX), fill:'none', stroke:spec.color, 'stroke-width':spec.lw, 'stroke-linejoin':'round', 'clip-path':'url(#clip-bc-high)'}, g);
    
    
  } else {
    xs = linearScale(spec.domain[0], spec.domain[1], spec.left, spec.right);
    addClip('clip-' + spec.id, spec.left, spec.right);
    if (spec.id === 'density') {
      stratBands.forEach(b => {
        const band = make('rect', {x:spec.left, y:yScale(b[0]), width:spec.right - spec.left, height:yScale(b[1]) - yScale(b[0]), fill:'#6495ED', 'fill-opacity':b[2]}, g);
        
        
      });
    }
    const line = make('polyline', {points:seriesPoints(spec.readings, xs), fill:'none', stroke:spec.color, 'stroke-width':spec.lw, 'stroke-linejoin':'round', 'clip-path':'url(#clip-' + spec.id + ')'}, g);
    
    
  }

  // Horizontal axis lines at the top and bottom of the panel.
  [plotTop, plotBottom].forEach(yy => {
    const axisLine = make('line', {x1:spec.left - 8, x2:spec.right + 7.3, y1:yy, y2:yy, stroke:'#444', 'stroke-width':1.4}, g);
    
    
  });

  // Depth ticks on both sides.
  depthTicks.forEach(d => {
    const tickL = make('line', {x1:spec.left - 8, x2:spec.left, y1:yScale(d), y2:yScale(d), stroke:'#444', 'stroke-width':1.4}, g);
    
    
    const tickR = make('line', {x1:spec.right, x2:spec.right + 7.3, y1:yScale(d), y2:yScale(d), stroke:'#444', 'stroke-width':1.4}, g);
    
    
    if (spec.leftLabels) {
      const tL = make('text', {x:69.5, y:yScale(d) + 7.6, 'text-anchor':'end', class:'tick'}, g);
      tL.textContent = d;
      
      
    }
    if (spec.rightLabels) {
      const tR = make('text', {x:1997.5, y:yScale(d) + 7.6, class:'tick'}, g);
      tR.textContent = d;
      
      
    }
  });

  // Value ticks, top and bottom.
  const xPos = spec.broken
    ? (v => v >= 100 ? spec.right : linearScale(0, 50, spec.left, 1726.6)(v))
    : xs;
  spec.ticks.forEach(v => {
    const tx = xPos(v);
    const topTick = make('line', {x1:tx, x2:tx, y1:plotTop - 7, y2:plotTop, stroke:'#444', 'stroke-width':1.4}, g);
    
    
    const botTick = make('line', {x1:tx, x2:tx, y1:plotBottom, y2:plotBottom + 7, stroke:'#444', 'stroke-width':1.4}, g);
    
    
    const tl = make('text', {x:tx, y:1283, 'text-anchor':'middle', class:'tick'}, g);
    tl.textContent = label(v);
    
    
  });
  spec.minor.forEach(v => {
    const tx = xPos(v);
    const topMinor = make('line', {x1:tx, x2:tx, y1:plotTop - 6, y2:plotTop, stroke:'#444', 'stroke-width':1.2}, g);
    
    
    const botMinor = make('line', {x1:tx, x2:tx, y1:plotBottom, y2:plotBottom + 4, stroke:'#444', 'stroke-width':1.2}, g);
    
    
  });

  // Vertical spines.
  [spec.left, spec.right].forEach(sx => {
    const spine = make('line', {x1:sx, x2:sx, y1:plotTop - 1, y2:plotBottom + 1, stroke:'#666', 'stroke-width':2.1}, g);
    
    
  });
});
</script>
</body>
</html>
